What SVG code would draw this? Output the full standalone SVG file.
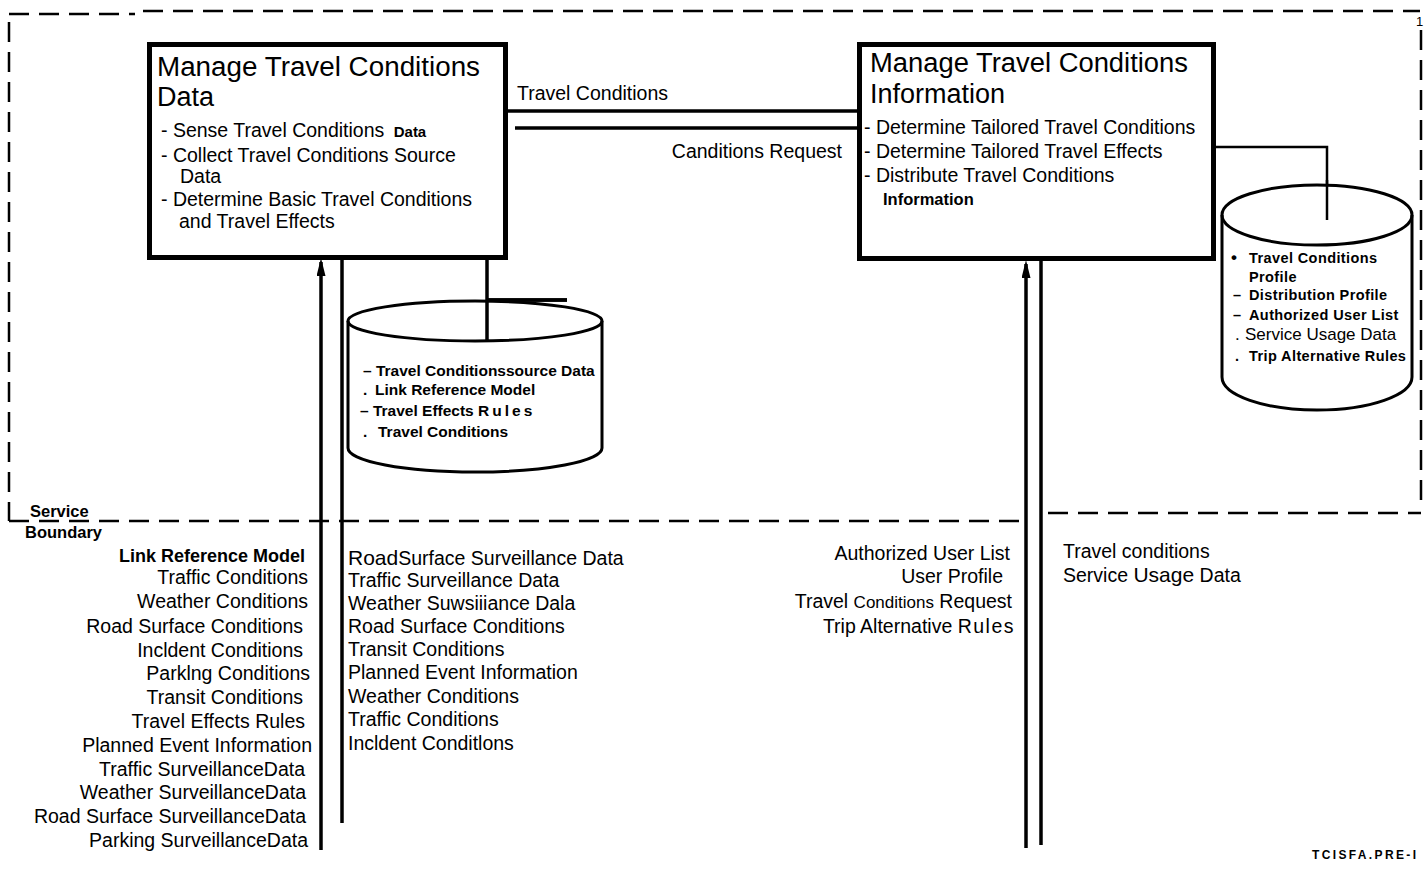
<svg xmlns="http://www.w3.org/2000/svg" width="1426" height="871" viewBox="0 0 1426 871">
<style>
text{font-family:"Liberation Sans",Arial,Helvetica,sans-serif;fill:#000}
.t{font-size:27px}
.b{font-size:19.5px}
.bd{font-weight:bold}
.box{fill:#fff;stroke:#000;stroke-width:5}
.cyl{fill:#fff;stroke:#000;stroke-width:3}
.cyl2{fill:none;stroke:#000;stroke-width:3}
.dash{fill:none;stroke:#000;stroke-width:2.5;stroke-dasharray:20 10}
.ln{fill:none;stroke:#000;stroke-width:3.5}
.thin{fill:none;stroke:#000;stroke-width:2.5}
</style>
<defs>
<marker id="ah" markerUnits="userSpaceOnUse" viewBox="0 0 18 9" markerWidth="18" markerHeight="9" refX="14" refY="4.5" orient="auto">
<path d="M0,0 L18,4.5 L0,9 Z" fill="#000"/>
</marker>
</defs>
<rect width="1426" height="871" fill="#fff"/>

<g id="boundary">
<path class="dash" d="M9,14 L135,14"/>
<path class="dash" d="M143,11 L1420,11"/>
<path class="dash" d="M9,22 L9,521"/>
<path class="dash" d="M9,521 L1020,521"/>
<path class="dash" d="M1048,513 L1421,513"/>
<path class="dash" d="M1421,30 L1421,510"/>
<text x="1416" y="26" style="font-size:13px;fill:#000">1</text>
<text x="30" y="517" class="bd" style="font-size:16.5px">Service</text>
<text x="25" y="538" class="bd" style="font-size:16.5px">Boundary</text>
</g>

<g id="connectors">
<path class="ln" d="M507,111 L860,111"/>
<path class="ln" d="M515,128 L858,128"/>
<path class="ln" d="M487,259 L487,340"/>
<path class="ln" d="M487,300 L567,300"/>
<path class="thin" d="M1214,147 L1327,147 L1327,220"/>
<path class="ln" d="M321,850 L321,262" marker-end="url(#ah)"/>
<path class="ln" d="M342,259 L342,823"/>
<path class="ln" d="M1026,848 L1026,264" marker-end="url(#ah)"/>
<path class="ln" d="M1041,260 L1041,845"/>
</g>

<g id="node-data">
<rect class="box" x="149.5" y="44.5" width="356" height="213"/>
<text class="t" x="157" y="76" textLength="323" lengthAdjust="spacingAndGlyphs">Manage Travel Conditions</text>
<text class="t" x="157" y="106">Data</text>
<text class="b" x="161" y="137">- Sense Travel Conditions <tspan class="bd" style="font-size:15px" dx="4">Data</tspan></text>
<text class="b" x="161" y="162">- Collect Travel Conditions Source</text>
<text class="b" x="180" y="183">Data</text>
<text class="b" x="161" y="206">- Determine Basic Travel Conditions</text>
<text class="b" x="179" y="228">and Travel Effects</text>
</g>

<g id="node-info">
<rect class="box" x="859.5" y="44.5" width="354" height="214"/>
<text class="t" x="870" y="72" textLength="318" lengthAdjust="spacingAndGlyphs">Manage Travel Conditions</text>
<text class="t" x="870" y="103">Information</text>
<text class="b" x="864" y="134">- Determine Tailored Travel Conditions</text>
<text class="b" x="864" y="158">- Determine Tailored Travel Effects</text>
<text class="b" x="864" y="182">- Distribute Travel Conditions</text>
<text class="bd" x="883" y="205" style="font-size:16.5px">Information</text>
</g>

<g id="label-travel-conditions">
<text class="b" x="517" y="100">Travel Conditions</text>
</g>
<g id="label-request">
<text class="b" x="842" y="158" text-anchor="end">Canditions Request</text>
</g>

<g id="store-data">
<path class="cyl" d="M348,321 A127,20 0 0 1 602,321 L602,448 A127,24 0 0 1 348,448 Z"/>
<path class="cyl2" d="M348,321 A127,20 0 0 0 602,321"/>
<path class="ln" d="M487,300 L567,300"/>
<path class="ln" d="M487,300 L487,340"/>
<g class="bd" style="font-size:15.5px">
<text x="363" y="376">– Travel Conditionssource Data</text>
<text x="363" y="395">.</text><text x="375" y="395">Link Reference Model</text>
<text x="360" y="416">– Travel Effects <tspan letter-spacing="3">Rules</tspan></text>
<text x="363" y="437">.</text><text x="378" y="437">Travel Conditions</text>
</g>
</g>

<g id="store-profile">
<path class="cyl" d="M1222,215 A95,30 0 0 1 1412,215 L1412,377 A95,33 0 0 1 1222,377 Z"/>
<path class="cyl2" d="M1222,215 A95,30 0 0 0 1412,215"/>
<path class="thin" d="M1327,180 L1327,220"/>
<g class="bd" style="font-size:14.5px;letter-spacing:0.4px">
<text x="1231" y="263" style="font-size:17px">•</text><text x="1249" y="263">Travel Conditions</text>
<text x="1249" y="282">Profile</text>
<text x="1233" y="300">–</text><text x="1249" y="300">Distribution  Profile</text>
<text x="1233" y="320">–</text><text x="1249" y="320">Authorized  User  List</text>
<text x="1235" y="361">.</text><text x="1249" y="361">Trip  Alternative Rules</text>
</g>
<text x="1235" y="340" style="font-size:17px">.</text><text x="1245" y="340" style="font-size:17px">Service  Usage Data</text>
</g>

<g id="inputs-left" class="b" text-anchor="end">
<text x="305" y="562" class="bd" style="font-size:18px">Link Reference Model</text>
<text x="308" y="584">Traffic  Conditions</text>
<text x="308" y="608">Weather Conditions</text>
<text x="303" y="633">Road Surface Conditions</text>
<text x="303" y="657">Incldent Conditions</text>
<text x="310" y="680">Parklng Conditions</text>
<text x="303" y="704">Transit Conditions</text>
<text x="305" y="728">Travel Effects Rules</text>
<text x="312" y="752">Planned Event Information</text>
<text x="305" y="776">Traffic SurveillanceData</text>
<text x="306" y="799">Weather SurveillanceData</text>
<text x="306" y="823">Road Surface SurveillanceData</text>
<text x="308" y="847">Parking SurveillanceData</text>
</g>

<g id="outputs-left" class="b">
<text x="348" y="565"><tspan style="font-size:21px">Road</tspan>Surface Surveillance Data</text>
<text x="348" y="587">Traffic Surveillance Data</text>
<text x="348" y="610">Weather Suwsiiiance Dala</text>
<text x="348" y="633">Road Surface Conditions</text>
<text x="348" y="656">Transit Conditions</text>
<text x="348" y="679">Planned Event Information</text>
<text x="348" y="703">Weather Conditions</text>
<text x="348" y="726">Traffic Conditions</text>
<text x="348" y="750">Incldent Conditlons</text>
</g>

<g id="inputs-right" class="b" text-anchor="end">
<text x="1010" y="560">Authorized User List</text>
<text x="1003" y="583">User Profile</text>
<text x="1012" y="608">Travel <tspan style="font-size:17px">Conditions</tspan> Request</text>
<text x="1015" y="633">Trip Alternative <tspan letter-spacing="1.5">Rules</tspan></text>
</g>

<g id="outputs-right" class="b">
<text x="1063" y="558">Travel conditions</text>
<text x="1063" y="582">Service <tspan style="font-size:21px">Usage</tspan> Data</text>
</g>

<text x="1312" y="859" class="bd" style="font-size:12px" textLength="104">TCISFA.PRE-I</text>
</svg>
